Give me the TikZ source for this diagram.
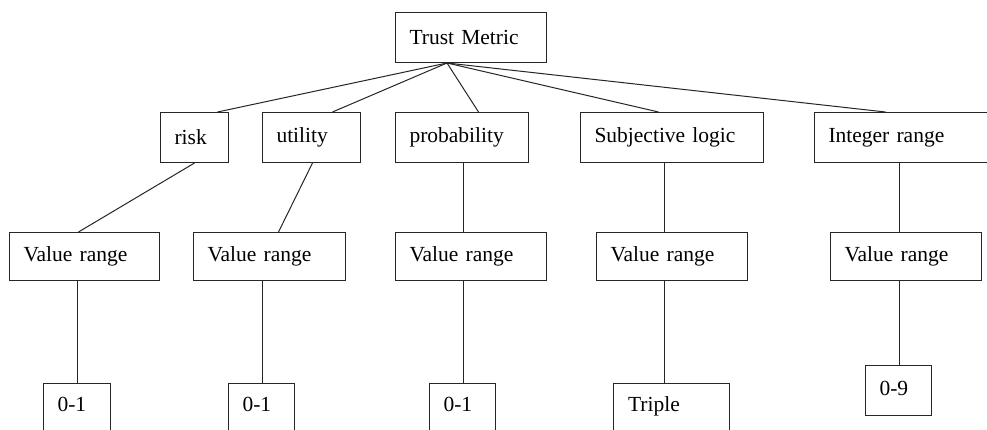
\documentclass[tikz,border=0pt]{standalone}
\usepackage{fontspec}
\setmainfont{Liberation Serif}
\usetikzlibrary{calc}
\begin{document}
\begin{tikzpicture}[x=1pt,y=-1pt,
  box/.style={draw=black!85, line width=1pt, inner xsep=14pt, inner ysep=0pt,
    align=left, anchor=north west, font=\fontsize{21.5}{24}\selectfont},
  leaf/.style={box, text depth=9pt},
  conn/.style={draw=black!85, line width=1pt}]
\useasboundingbox (0,0) rectangle (987,430);
\clip (0,0) rectangle (987,430);
\fill[white] (0,0) rectangle (987,430);
% level 0
\node[box, text width=123pt, minimum height=50pt] (tm) at (395,12) {Trust Metric};
% level 1
\node[box, text width=40pt,  minimum height=50pt] (risk) at (160,112) {risk};
\node[box, text width=70pt,  minimum height=50pt] (util) at (262,112) {utility};
\node[box, text width=105pt, minimum height=50pt] (prob) at (395,112) {probability};
\node[box, text width=155pt, minimum height=50pt] (subj) at (580,112) {Subjective logic};
\node[box, text width=162pt, minimum height=50pt] (intg) at (814,112) {Integer range};
% level 2
\node[box, text width=122pt, minimum height=48pt] (vra) at (9,232) {Value range};
\node[box, text width=124pt, minimum height=48pt] (vrb) at (193,232) {Value range};
\node[box, text width=123pt, minimum height=48pt] (vrc) at (395,232) {Value range};
\node[box, text width=123pt, minimum height=48pt] (vrd) at (596,232) {Value range};
\node[box, text width=123pt, minimum height=48pt] (vre) at (830,232) {Value range};
% level 3
\node[leaf, text width=39pt, minimum height=50pt] (la) at (43,383) {0-1};
\node[leaf, text width=38pt, minimum height=50pt] (lb) at (228,383) {0-1};
\node[leaf, text width=38pt, minimum height=50pt] (lc) at (429,383) {0-1};
\node[leaf, text width=87pt, minimum height=50pt, inner xsep=14.5pt] (ld) at (613,383) {Triple};
\node[box, text width=38pt, minimum height=50pt, text depth=4pt] (le) at (865,365) {0-9};
% hub under the root
\coordinate (hub) at ($(tm.south west)+(52,0)$);
% connectors level 0 -> 1
\draw[conn] (hub) -- ([xshift=23pt]risk.north);
\draw[conn] (hub) -- ([xshift=21pt]util.north);
\draw[conn] (hub) -- ([xshift=16.5pt]prob.north);
\draw[conn] (hub) -- ([xshift=-13.5pt]subj.north);
\draw[conn] (hub) -- ([xshift=-24pt]intg.north);
% level 1 -> 2
\draw[conn] (risk.south) -- ([xshift=-6pt]vra.north);
\draw[conn] ([xshift=1pt]util.south) -- ([xshift=9pt]vrb.north);
\draw[conn] ([xshift=1.5pt]prob.south) -- ([xshift=-7.5pt]vrc.north);
\draw[conn] ([xshift=-7.5pt]subj.south) -- ([xshift=-7.5pt]vrd.north);
\draw[conn] ([xshift=-10pt]intg.south) -- ([xshift=-6.5pt]vre.north);
% level 2 -> 3
\draw[conn] ([xshift=-7.5pt]vra.south) -- (la.north);
\draw[conn] ([xshift=-7pt]vrb.south) -- ([xshift=1pt]lb.north);
\draw[conn] ([xshift=-7.5pt]vrc.south) -- ([xshift=1pt]lc.north);
\draw[conn] ([xshift=-7.5pt]vrd.south) -- ([xshift=-7pt]ld.north);
\draw[conn] ([xshift=-6.5pt]vre.south) -- ([xshift=1pt]le.north);
\end{tikzpicture}
\end{document}
